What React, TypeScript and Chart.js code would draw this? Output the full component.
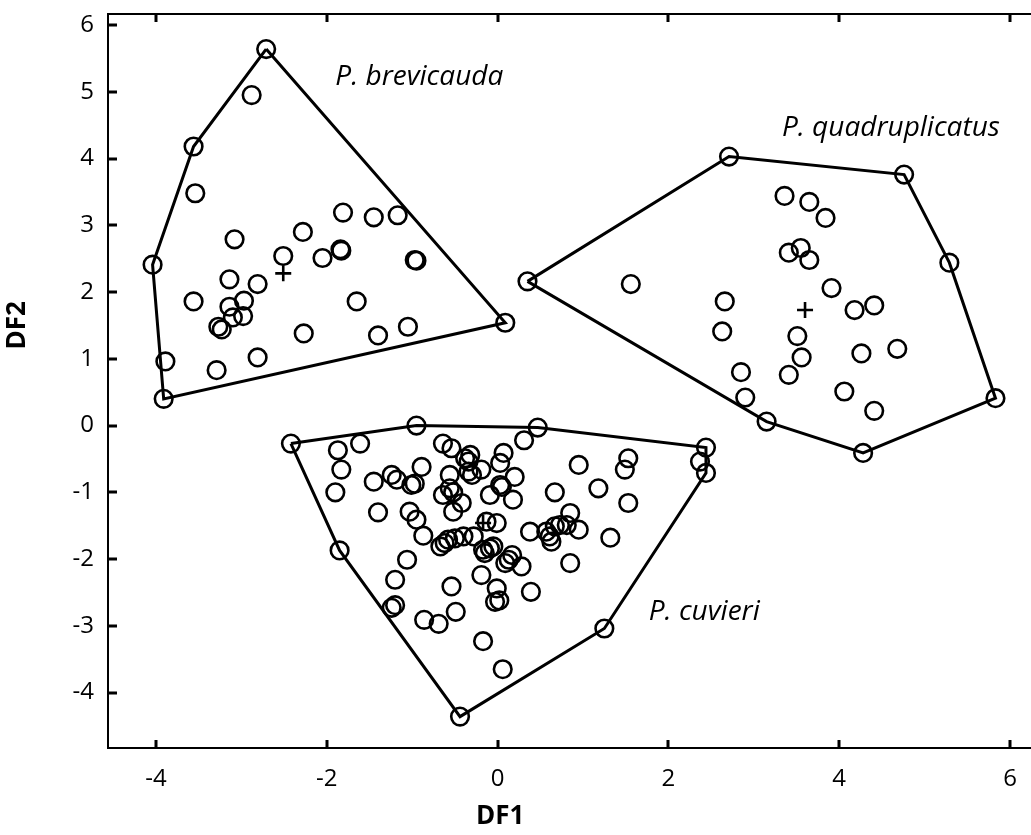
import React, { useEffect, useRef } from 'react';
import { Chart, registerables } from 'chart.js';

Chart.register(...registerables);

// Axis ticks
const xTicks = [-4, -2, 0, 2, 4, 6];
const yTicks = [-4, -3, -2, -1, 0, 1, 2, 3, 4, 5, 6];

// Discriminant scores (DF1, DF2) per specimen
const brevicauda: [number, number][] = [
  [-2.71, 5.64], [-2.88, 4.95], [-3.56, 4.18], [-3.54, 3.48], [-4.04, 2.41], [-3.89, 0.96], [-3.91, 0.4], [0.09, 1.54],
  [-3.08, 2.79], [-3.14, 2.19], [-3.56, 1.86], [-2.81, 2.12], [-2.51, 2.54], [-2.28, 2.9], [-1.81, 3.19], [-1.45, 3.12],
  [-1.17, 3.15], [-2.05, 2.51], [-1.84, 2.64], [-1.83, 2.62], [-0.97, 2.48], [-0.95, 2.47], [-3.14, 1.78], [-2.97, 1.87],
  [-2.98, 1.64], [-3.1, 1.62], [-3.27, 1.48], [-3.23, 1.44], [-1.65, 1.86], [-2.27, 1.38], [-1.4, 1.35], [-1.05, 1.48],
  [-3.29, 0.83], [-2.81, 1.02],
];

const quadruplicatus: [number, number][] = [
  [0.35, 2.16], [2.71, 4.03], [4.76, 3.76], [5.29, 2.44], [5.83, 0.41], [4.28, -0.41], [3.15, 0.06], [2.9, 0.42],
  [2.85, 0.8], [1.56, 2.12], [2.66, 1.86], [2.63, 1.41], [3.36, 3.44], [3.65, 3.35], [3.84, 3.11], [3.41, 2.59],
  [3.55, 2.66], [3.65, 2.48], [3.91, 2.06], [4.18, 1.73], [4.41, 1.8], [3.51, 1.34], [3.56, 1.02], [3.41, 0.76],
  [4.26, 1.08], [4.68, 1.15], [4.06, 0.51], [4.41, 0.22],
];

const cuvieri: [number, number][] = [
  [-2.42, -0.27], [-0.95, 0.0], [0.47, -0.03], [2.44, -0.33], [2.44, -0.71], [1.25, -3.04], [-0.44, -4.36], [-1.85, -1.87],
  [2.37, -0.54], [-1.87, -0.37], [-1.61, -0.27], [-1.83, -0.66], [-1.9, -1.0], [-1.45, -0.84], [-1.4, -1.3], [-1.24, -0.74],
  [-1.18, -0.81], [-1.01, -0.89], [-0.97, -0.87], [-0.89, -0.62], [-1.03, -1.29], [-0.95, -1.41], [-0.87, -1.65], [-1.06, -2.01],
  [-1.2, -2.31], [-0.54, -2.41], [-0.64, -0.27], [-0.54, -0.34], [-0.56, -0.74], [-0.64, -1.04], [-0.56, -0.94], [-0.52, -1.0],
  [-0.52, -1.29], [-0.67, -1.81], [-0.58, -1.71], [-0.5, -1.69], [-0.4, -1.66], [-0.38, -0.49], [-1.24, -2.73], [-1.2, -2.69],
  [-0.49, -2.79], [-0.86, -2.91], [-0.69, -2.97], [-0.17, -3.23], [0.06, -3.65], [-0.19, -2.24], [-0.01, -2.44], [-0.03, -2.64],
  [0.02, -2.62], [0.39, -2.49], [0.28, -2.11], [0.09, -2.06], [0.31, -0.22], [0.95, -0.59], [1.53, -0.49], [1.49, -0.66],
  [1.18, -0.94], [1.53, -1.16], [0.67, -1.0], [1.32, -1.68], [0.85, -2.06], [0.85, -1.31], [0.95, -1.56], [0.38, -1.59],
  [0.61, -1.66], [0.57, -1.59], [0.67, -1.51], [0.73, -1.49], [0.81, -1.49], [0.63, -1.74], [0.18, -1.11], [0.03, -0.89],
  [0.2, -0.77], [-0.09, -1.04], [0.07, -0.41], [0.03, -0.56], [-0.19, -0.66], [-0.32, -0.44], [-0.34, -0.54], [-0.3, -0.74],
  [-0.42, -1.16], [-0.13, -1.44], [-0.01, -1.46], [-0.28, -1.66], [-0.62, -1.76], [-0.17, -1.86], [-0.09, -1.84], [-0.05, -1.81],
  [-0.15, -1.91], [0.17, -1.94], [0.05, -0.92], [-0.34, -0.69], [0.13, -2.01],
];

// Convex hull vertices (indices into each group), in drawing order
const brevicaudaHull = [0, 7, 6, 4, 2];
const quadruplicatusHull = [0, 1, 2, 3, 4, 5, 6];
const cuvieriHull = [0, 1, 2, 3, 4, 5, 6, 7];

// Group centroids
const centroids: [number, number][] = [
  [-2.51, 2.28],
  [3.6, 1.73],
  [-0.17, -1.46],
];

// Group names and their anchor points (DF1, DF2)
const groupNames = ['P. brevicauda', 'P. quadruplicatus', 'P. cuvieri'];
const groupNameAnchors: [number, number][] = [
  [-1.9, 5.22],
  [3.33, 4.46],
  [1.77, -2.79],
];

// Axis titles and the value each is centred on
const xTitle = 'DF1';
const yTitle = 'DF2';
const xTitleAt = 0.03;
const yTitleAt = 1.5;

const FONT = '"Open Sans", "DejaVu Sans", sans-serif';

const toXY = (pts: [number, number][]) => pts.map(([x, y]) => ({ x, y }));
const hullPath = (pts: [number, number][], idx: number[]) =>
  [...idx, idx[0]].map((i) => ({ x: pts[i][0], y: pts[i][1] }));

const framePlugin = {
  id: 'frameAndNames',
  afterDraw(chart: any) {
    const { ctx, chartArea: a, scales } = chart;
    const xs = scales.x;
    const ys = scales.y;
    ctx.save();
    ctx.strokeStyle = '#000';
    ctx.lineCap = 'butt';
    ctx.lineWidth = 2;
    ctx.beginPath();
    ctx.moveTo(a.right, a.top);
    ctx.lineTo(a.left, a.top);
    ctx.lineTo(a.left, a.bottom);
    ctx.lineTo(a.right, a.bottom);
    ctx.stroke();

    ctx.lineWidth = 3;
    ctx.beginPath();
    for (const v of xTicks) {
      const px = Math.round(xs.getPixelForValue(v));
      ctx.moveTo(px, a.bottom);
      ctx.lineTo(px, a.bottom - 8);
      ctx.moveTo(px, a.top);
      ctx.lineTo(px, a.top + 8);
    }
    for (const v of yTicks) {
      const py = Math.round(ys.getPixelForValue(v));
      ctx.moveTo(a.left, py);
      ctx.lineTo(a.left + 9, py);
    }
    ctx.stroke();

    ctx.fillStyle = '#000';
    ctx.font = `italic 28px ${FONT}`;
    ctx.textAlign = 'left';
    ctx.textBaseline = 'middle';
    groupNames.forEach((name, i) => {
      const [gx, gy] = groupNameAnchors[i];
      ctx.fillText(name, xs.getPixelForValue(gx), ys.getPixelForValue(gy));
    });

    // axis titles
    ctx.font = `bold 26px ${FONT}`;
    ctx.textAlign = 'center';
    ctx.textBaseline = 'middle';
    ctx.fillText(xTitle, xs.getPixelForValue(xTitleAt), 817);
    ctx.save();
    ctx.translate(18, ys.getPixelForValue(yTitleAt));
    ctx.rotate(-Math.PI / 2);
    ctx.fillText(yTitle, 0, 0);
    ctx.restore();
    ctx.restore();
  },
};

export default function App() {
  const canvasRef = useRef<HTMLCanvasElement>(null);

  useEffect(() => {
    const canvas = canvasRef.current;
    if (!canvas) return;

    const pointStyle = {
      type: 'scatter' as const,
      pointStyle: 'circle',
      pointRadius: 8.8,
      pointBorderWidth: 2.6,
      pointBorderColor: '#000',
      pointBackgroundColor: 'rgba(0,0,0,0)',
      showLine: false,
    };
    const hullStyle = {
      type: 'scatter' as const,
      showLine: true,
      borderColor: '#000',
      borderWidth: 3,
      pointRadius: 0,
      fill: false,
    };

    const chart = new Chart(canvas, {
      type: 'scatter',
      data: {
        datasets: [
          { ...hullStyle, label: 'P. brevicauda hull', data: hullPath(brevicauda, brevicaudaHull) },
          { ...hullStyle, label: 'P. quadruplicatus hull', data: hullPath(quadruplicatus, quadruplicatusHull) },
          { ...hullStyle, label: 'P. cuvieri hull', data: hullPath(cuvieri, cuvieriHull) },
          { ...pointStyle, label: 'P. brevicauda', data: toXY(brevicauda) },
          { ...pointStyle, label: 'P. quadruplicatus', data: toXY(quadruplicatus) },
          { ...pointStyle, label: 'P. cuvieri', data: toXY(cuvieri) },
          {
            type: 'scatter',
            label: 'Centroids',
            data: toXY(centroids),
            pointStyle: 'cross',
            pointRadius: 8,
            pointBorderWidth: 2.6,
            pointBorderColor: '#000',
            showLine: false,
          },
        ] as any,
      },
      options: {
        responsive: false,
        animation: false,
        devicePixelRatio: 1,
        layout: { autoPadding: false, padding: { top: 14, right: 0, left: 0, bottom: 0 } },
        plugins: { legend: { display: false }, tooltip: { enabled: false } },
        scales: {
          x: {
            type: 'linear',
            min: -4.562,
            max: 6.246,
            grid: { display: false, drawTicks: false },
            border: { display: false },
            afterBuildTicks: (s: any) => {
              s.ticks = xTicks.map((v) => ({ value: v }));
            },
            afterFit: (s: any) => {
              s.height = 87;
              s.paddingLeft = 0;
              s.paddingRight = 0;
            },
            ticks: {
              color: '#000',
              font: { family: FONT, size: 24 },
              padding: 17,
              maxRotation: 0,
              callback: (v: any) => `${v}`,
            },
          },
          y: {
            type: 'linear',
            min: -4.83,
            max: 6.165,
            grid: { display: false, drawTicks: false },
            border: { display: false },
            afterBuildTicks: (s: any) => {
              s.ticks = yTicks.map((v) => ({ value: v }));
            },
            afterFit: (s: any) => {
              s.width = 108;
              s.paddingTop = 0;
              s.paddingBottom = 0;
            },
            ticks: {
              color: '#000',
              font: { family: FONT, size: 24 },
              padding: 14,
              callback: (v: any) => `${v}`,
            },
          },
        },
      },
      plugins: [framePlugin],
    } as any);

    return () => chart.destroy();
  }, []);

  return (
    <div style={{ position: 'absolute', left: 0, top: 0, width: 1031, height: 835, background: '#fff' }}>
      <canvas ref={canvasRef} width={1031} height={835} style={{ display: 'block' }} />
    </div>
  );
}
